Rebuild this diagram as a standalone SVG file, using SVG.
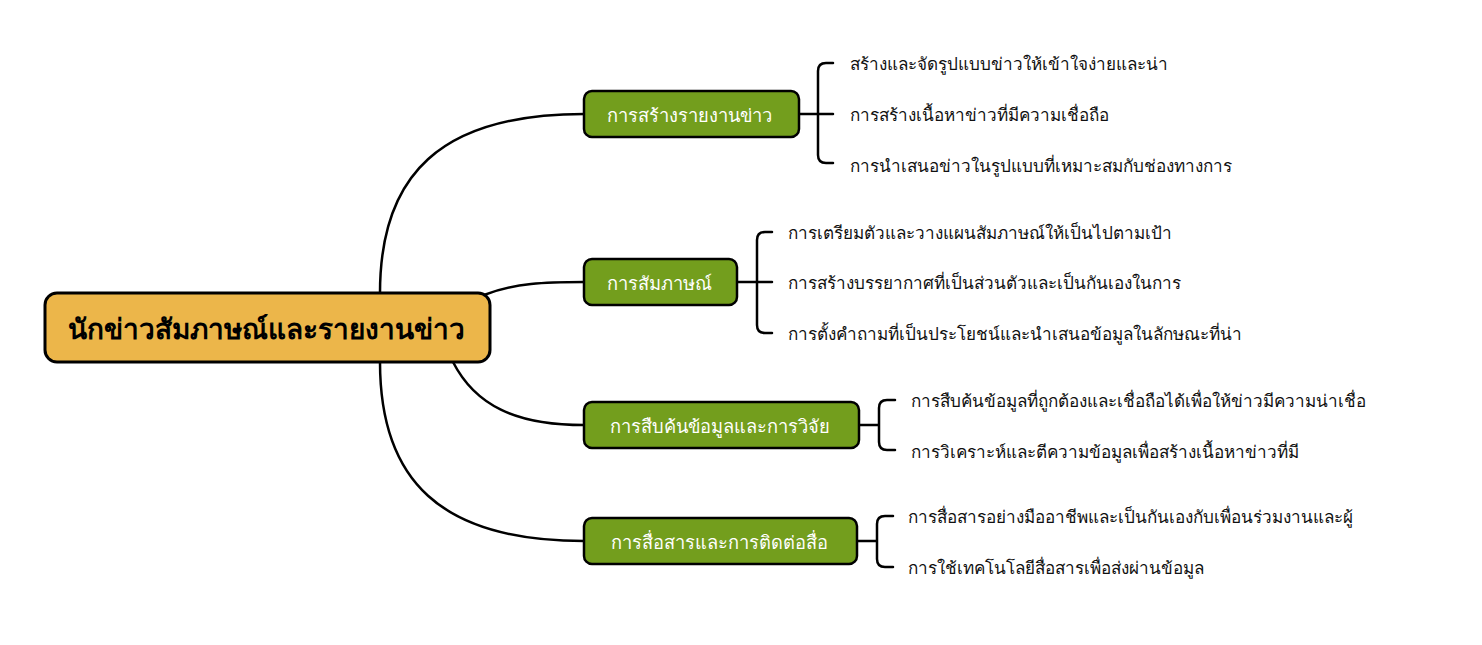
<svg xmlns="http://www.w3.org/2000/svg" width="1482" height="645" viewBox="0 0 1482 645">
<style>
.root rect{fill:#ECB64A;stroke:#000;stroke-width:3}
.root text{font-family:"Noto Sans","DejaVu Sans",sans-serif;font-size:28px;font-weight:bold;fill:#000;text-anchor:middle;dominant-baseline:central}
.br rect{fill:#739E1D;stroke:#000;stroke-width:2.5}
.br text{font-family:"Noto Sans","DejaVu Sans",sans-serif;font-size:18.3px;fill:#fff;text-anchor:middle;dominant-baseline:central}
.leaf{font-family:"Noto Sans","DejaVu Sans",sans-serif;font-size:17.1px;fill:#111;dominant-baseline:central}
.con path{fill:none;stroke:#000;stroke-width:2.5;stroke-linecap:round}
</style>
<rect width="1482" height="645" fill="#fff"/>
<g id="connectors" class="con">
<path d="M380,293 C380,175 440,114 584,114"/>
<path d="M484,295 C515,283 545,282 584,282"/>
<path d="M453,362 C475,405 515,425 584,425"/>
<path d="M380,362 C380,480 440,541 584,541"/>
<path d="M799,114 H833 M833,63 H826 Q818,63 818,71 V155 Q818,163 826,163 H833"/>
<path d="M737,282 H772 M772,232 H765 Q757,232 757,240 V325 Q757,333 765,333 H772"/>
<path d="M859,425 H879 M895,400 H887 Q879,400 879,408 V442 Q879,450 887,450 H895"/>
<path d="M857,541 H877 M893,516 H885 Q877,516 877,524 V559 Q877,567 885,567 H893"/>
</g>
<g id="root" class="root">
<rect x="45" y="293" width="445" height="69" rx="12"/>
<text x="266" y="328">นักข่าวสัมภาษณ์และรายงานข่าว</text>
</g>
<g id="b1" class="br">
<rect x="584" y="91" width="215" height="46" rx="8"/>
<text x="689" y="114">การสร้างรายงานข่าว</text>
</g>
<g id="b2" class="br">
<rect x="584" y="259" width="153" height="46" rx="8"/>
<text x="659" y="282">การสัมภาษณ์</text>
</g>
<g id="b3" class="br">
<rect x="584" y="402" width="275" height="46" rx="8"/>
<text x="720" y="425">การสืบค้นข้อมูลและการวิจัย</text>
</g>
<g id="b4" class="br">
<rect x="584" y="518" width="273" height="46" rx="8"/>
<text x="719" y="541">การสื่อสารและการติดต่อสื่อ</text>
</g>
<g id="l1a"><text class="leaf" x="850" y="63">สร้างและจัดรูปแบบข่าวให้เข้าใจง่ายและน่า</text></g>
<g id="l1b"><text class="leaf" x="850" y="114">การสร้างเนื้อหาข่าวที่มีความเชื่อถือ</text></g>
<g id="l1c"><text class="leaf" x="850" y="165">การนำเสนอข่าวในรูปแบบที่เหมาะสมกับช่องทางการ</text></g>
<g id="l2a"><text class="leaf" x="788" y="232">การเตรียมตัวและวางแผนสัมภาษณ์ให้เป็นไปตามเป้า</text></g>
<g id="l2b"><text class="leaf" x="788" y="282">การสร้างบรรยากาศที่เป็นส่วนตัวและเป็นกันเองในการ</text></g>
<g id="l2c"><text class="leaf" x="788" y="333">การตั้งคำถามที่เป็นประโยชน์และนำเสนอข้อมูลในลักษณะที่น่า</text></g>
<g id="l3a"><text class="leaf" x="911" y="400">การสืบค้นข้อมูลที่ถูกต้องและเชื่อถือได้เพื่อให้ข่าวมีความน่าเชื่อ</text></g>
<g id="l3b"><text class="leaf" x="911" y="451">การวิเคราะห์และตีความข้อมูลเพื่อสร้างเนื้อหาข่าวที่มี</text></g>
<g id="l4a"><text class="leaf" x="908" y="516">การสื่อสารอย่างมืออาชีพและเป็นกันเองกับเพื่อนร่วมงานและผู้</text></g>
<g id="l4b"><text class="leaf" x="908" y="567">การใช้เทคโนโลยีสื่อสารเพื่อส่งผ่านข้อมูล</text></g>
</svg>
